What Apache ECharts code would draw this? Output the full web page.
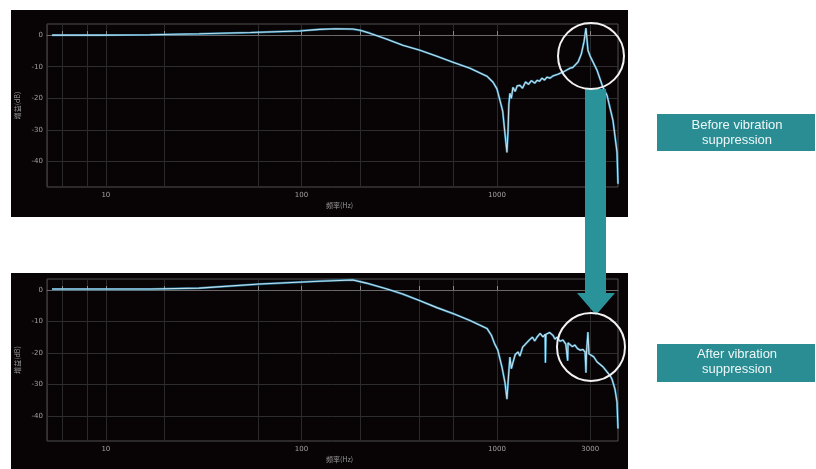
<!DOCTYPE html>
<html>
<head>
<meta charset="utf-8">
<script src="https://cdn.jsdelivr.net/npm/echarts@6/dist/echarts.min.js"></script>
<style>html,body{margin:0;padding:0;background:#fff;}#c{width:816px;height:469px;}</style>
</head>
<body>
<div id="c"></div>
<script>
// ---- data ----
const topFreq = [5.3, 9.3, 16.8, 30, 55, 98, 124, 150, 183, 200, 224, 274, 330, 404, 493, 596, 728, 889, 955, 1000, 1036, 1070, 1099, 1125, 1140, 1150, 1165, 1185, 1207, 1240, 1270, 1312, 1350, 1400, 1450, 1500, 1560, 1603, 1650, 1700, 1750, 1803, 1870, 1934, 2050, 2176, 2362, 2448, 2600, 2700, 2790, 2853, 2920, 2990, 3245, 3483, 3654, 3786, 3922, 4016, 4111, 4160];
const topGain = [0, 0, 0.1, 0.4, 0.8, 1.3, 1.8, 2.0, 1.9, 1.5, 0.6, -1.3, -3.2, -4.8, -6.7, -8.6, -10.5, -13.0, -14.9, -17, -20.6, -24, -31.1, -37.1, -30, -22, -18.4, -20, -16.5, -17.8, -16, -15.9, -16.8, -14.8, -15.6, -14.4, -15.2, -14.3, -14.6, -13.6, -14.2, -13.3, -13.6, -12.9, -12.4, -11.7, -10.5, -10.2, -8.5, -6, -2, 2.2, -4.8, -6.5, -11, -16.5, -19, -23, -27, -32, -37, -47];

const botFreq = [5.3, 9.3, 16.8, 30, 61, 124, 183, 215, 274, 330, 404, 493, 596, 728, 889, 937, 970, 1010, 1060, 1099, 1125, 1138, 1165, 1185, 1207, 1240, 1282, 1310, 1355, 1390, 1417, 1470, 1520, 1560, 1603, 1662, 1720, 1764, 1770, 1780, 1803, 1860, 1934, 1980, 2029, 2100, 2176, 2250, 2290, 2300, 2310, 2362, 2430, 2505, 2580, 2660, 2750, 2823, 2853, 2870, 2886, 2920, 2955, 3050, 3130, 3245, 3483, 3654, 3786, 3880, 4016, 4111, 4160];
const botGain = [0.3, 0.3, 0.3, 0.6, 1.9, 2.8, 3.2, 2.2, 0.3, -1.3, -3.4, -5.6, -7.5, -9.7, -12.2, -14.4, -16.9, -19.1, -24.4, -29.4, -34.7, -30, -21.3, -25, -23.1, -20.5, -19.7, -21, -18.1, -17.4, -16.9, -15.8, -15, -16.2, -15, -13.8, -14.9, -14.1, -23.1, -14.1, -14.4, -13.5, -14.4, -15.6, -15, -16.3, -15.9, -17.2, -16.8, -22.5, -16.8, -16.9, -18, -17.5, -18.6, -19.1, -18.9, -19.7, -26.3, -19.9, -19.7, -13.4, -20.3, -20.8, -21.3, -22.8, -24.4, -26, -27.2, -28.4, -31.6, -35.6, -44];

const topXLabels = [10, 100, 1000];
const botXLabels = [10, 100, 1000, 3000];
const xGridValues = [6, 8, 10, 20, 60, 100, 200, 400, 600, 1000, 3000];
const yLabels = [0, -10, -20, -30, -40];

const yName = '增益(dB)';
const xName = '频率(Hz)';
const beforeText = 'Before vibration\nsuppression';
const afterText = 'After vibration\nsuppression';

// ---- chart ----
const chart = echarts.init(document.getElementById('c'), null, {renderer: 'canvas'});
const pair = (xs, ys) => xs.map((x, i) => [x, ys[i]]);
const topData = pair(topFreq, topGain);
const botData = pair(botFreq, botGain);

function xAxis(gi, labels) {
  return {
    type: 'log', logBase: 10, gridIndex: gi, min: 5, max: 4160,
    name: xName, nameLocation: 'middle', nameGap: 15,
    nameTextStyle: {fontSize: 7, color: '#9a9a9a', fontFamily: 'Noto Sans CJK SC', padding: [0, 0, 0, 14]},
    axisLine: {show: true, lineStyle: {color: '#6a6a6a', width: 1}},
    axisTick: {show: true, inside: true, length: 4, customValues: xGridValues, lineStyle: {color: '#8a8a8a'}},
    minorTick: {show: false},
    axisLabel: {customValues: labels, fontSize: 7, color: '#a0a0a0', margin: 5, fontFamily: 'DejaVu Sans',
      formatter: v => String(Math.round(v))},
    splitLine: {show: true, lineStyle: {color: '#2a2a2a', width: 1}}
  };
}
function yAxis(gi) {
  return {
    type: 'value', gridIndex: gi, min: -48, max: 3.5,
    name: yName, nameLocation: 'middle', nameGap: 14,
    nameTextStyle: {fontSize: 7, color: '#9a9a9a', fontFamily: 'Noto Sans CJK SC'},
    axisLine: {show: true, lineStyle: {color: '#333'}},
    axisTick: {show: false, customValues: yLabels},
    axisLabel: {customValues: yLabels, fontSize: 7, color: '#a0a0a0', margin: 4, fontFamily: 'DejaVu Sans'},
    splitLine: {show: true, lineStyle: {color: '#2e2e2e', width: 1}}
  };
}
function lines(gi, data) {
  return [
    {type: 'line', xAxisIndex: gi, yAxisIndex: gi, data: data, showSymbol: false, silent: true,
      lineStyle: {color: '#2ba3d6', width: 2.2, opacity: 0.75}, z: 3},
    {type: 'line', xAxisIndex: gi, yAxisIndex: gi, data: data, showSymbol: false, silent: true,
      lineStyle: {color: '#d6e8ee', width: 1.1, opacity: 0.9}, z: 4}
  ];
}

const teal = '#2a8d94';
const option = {
  animation: false,
  backgroundColor: '#ffffff',
  grid: [
    {left: 47, top: 24, width: 571, height: 163, show: true, borderColor: '#505050', borderWidth: 1, backgroundColor: 'transparent'},
    {left: 47, top: 279, width: 571, height: 162, show: true, borderColor: '#505050', borderWidth: 1, backgroundColor: 'transparent'}
  ],
  xAxis: [xAxis(0, topXLabels), xAxis(1, botXLabels)],
  yAxis: [yAxis(0), yAxis(1)],
  series: [...lines(0, topData), ...lines(1, botData)],
  graphic: [
    {type: 'rect', z: -100, shape: {x: 11, y: 10, width: 617, height: 207}, style: {fill: '#080304'}},
    {type: 'rect', z: -100, shape: {x: 11, y: 273, width: 617, height: 196}, style: {fill: '#080304'}},
    {type: 'polygon', z: 100, shape: {points: [[585, 89], [606, 89], [606, 293], [615, 293], [596, 315], [577, 293], [585, 293]]}, style: {fill: '#2a939a'}},
    {type: 'circle', z: 101, shape: {cx: 591, cy: 56, r: 33}, style: {fill: 'none', stroke: '#f2f2f2', lineWidth: 2}},
    {type: 'circle', z: 101, shape: {cx: 591, cy: 347, r: 34}, style: {fill: 'none', stroke: '#f2f2f2', lineWidth: 2}},
    {type: 'rect', z: 100, shape: {x: 657, y: 114, width: 158, height: 37}, style: {fill: teal}},
    {type: 'text', z: 101, style: {text: beforeText, x: 737, y: 132.5, align: 'center', verticalAlign: 'middle', fill: '#eef7f7', font: '13px "Liberation Sans", Arial, sans-serif', lineHeight: 15}},
    {type: 'rect', z: 100, shape: {x: 657, y: 344, width: 158, height: 38}, style: {fill: teal}},
    {type: 'text', z: 101, style: {text: afterText, x: 737, y: 362, align: 'center', verticalAlign: 'middle', fill: '#eef7f7', font: '13px "Liberation Sans", Arial, sans-serif', lineHeight: 15}}
  ]
};
chart.setOption(option);
</script>
</body>
</html>
